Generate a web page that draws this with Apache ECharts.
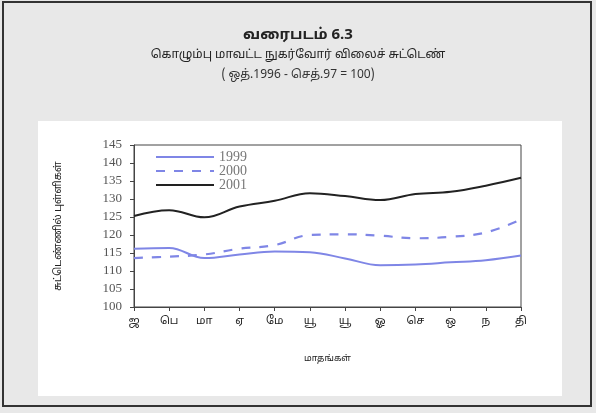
<!DOCTYPE html>
<html><head><meta charset="utf-8">
<script src="https://cdn.jsdelivr.net/npm/echarts@6/dist/echarts.min.js"></script>
<style>html,body{margin:0;padding:0;background:#fff}#c{width:596px;height:413px}</style>
</head><body><div id="c"></div>
<script>
const months = ['ஜ','பெ','மா','ஏ','மே','யூ','யூ','ஓ','செ','ஒ','ந','தி'];
const s1999 = [116.2,116.4,113.6,114.6,115.4,115.2,113.5,111.6,111.8,112.4,113.0,114.3];
const s2000 = [113.6,114.0,114.6,116.2,117.2,120.0,120.2,119.8,119.1,119.5,120.7,124.3];
const s2001 = [125.3,126.9,124.9,127.9,129.5,131.6,130.8,129.7,131.4,132.0,133.7,135.9];
const yTicks = [100,105,110,115,120,125,130,135,140,145];
const seriesNames = ['1999','2000','2001'];

const chart = echarts.init(document.getElementById('c'), null, {renderer:'canvas'});
const blue = '#7f86e6';
const TF = '"Noto Sans Tamil", "Noto Sans Tamil UI", "Lohit Tamil", sans-serif';
chart.setOption({
  animation:false,
  backgroundColor:'#e8e8e8',
  graphic:[
    {type:'rect', z:-10, shape:{x:38,y:121,width:524,height:275}, style:{fill:'#ffffff'}},
    {type:'rect', z:100, shape:{x:3,y:2,width:588,height:404}, style:{fill:'none', stroke:'#333', lineWidth:2}},
    {type:'text', left:'center', top:28, style:{text:'வரைபடம் 6.3', font:'bold 15px ' + TF, fill:'#222'}},
    {type:'text', left:'center', top:50, style:{text:'கொழும்பு மாவட்ட நுகர்வோர் விலைச் சுட்டெண்', font:'12px ' + TF, fill:'#222'}},
    {type:'text', left:'center', top:70, style:{text:'( ஒத்.1996 - செத்.97 = 100)', font:'12px ' + TF, fill:'#333'}}
  ],
  grid:{left:134, right:75, top:145, bottom:106, show:true, borderColor:'#444', borderWidth:1, backgroundColor:'transparent'},
  legend:{
    data:seriesNames.map(n=>({name:n, itemStyle:{opacity:0}})),
    orient:'vertical', left:150, top:145, itemWidth:58, itemHeight:12, itemGap:0,
    textStyle:{fontFamily:'"Liberation Serif", serif', fontSize:14, color:'#777'}
  },
  xAxis:{
    type:'category', data:months, boundaryGap:false,
    axisLine:{lineStyle:{color:'#444'}},
    axisTick:{show:true, length:4, lineStyle:{color:'#444'}, alignWithLabel:true},
    axisLabel:{fontSize:11, fontFamily:TF, color:'#222', margin:9},
    name:'மாதங்கள்', nameLocation:'middle', nameGap:48,
    nameTextStyle:{fontSize:9, fontFamily:TF, color:'#222'}
  },
  yAxis:{
    type:'value', min:100, max:145, interval:5,
    axisLine:{show:true, lineStyle:{color:'#444'}},
    axisTick:{show:true, length:4, lineStyle:{color:'#444'}},
    splitLine:{show:false},
    axisLabel:{fontFamily:'"Liberation Serif", serif', fontSize:13, color:'#555', margin:12,
      formatter:v=>yTicks.includes(v)?String(v):''},
    name:'சுட்டெண்ணில் புள்ளிகள்', nameLocation:'middle', nameGap:70, nameRotate:90,
    nameTextStyle:{fontSize:10, fontFamily:TF, color:'#222'}
  },
  series:[
    {name:'1999', type:'line', data:s1999, smooth:0.4, symbol:'none', lineStyle:{color:blue, width:2}, itemStyle:{color:blue}},
    {name:'2000', type:'line', data:s2000, smooth:0.4, symbol:'none', lineStyle:{color:blue, width:2.2, type:[9,9]}, itemStyle:{color:blue}},
    {name:'2001', type:'line', data:s2001, smooth:0.4, symbol:'none', lineStyle:{color:'#222', width:2}, itemStyle:{color:'#222'}}
  ]
});
</script></body></html>
